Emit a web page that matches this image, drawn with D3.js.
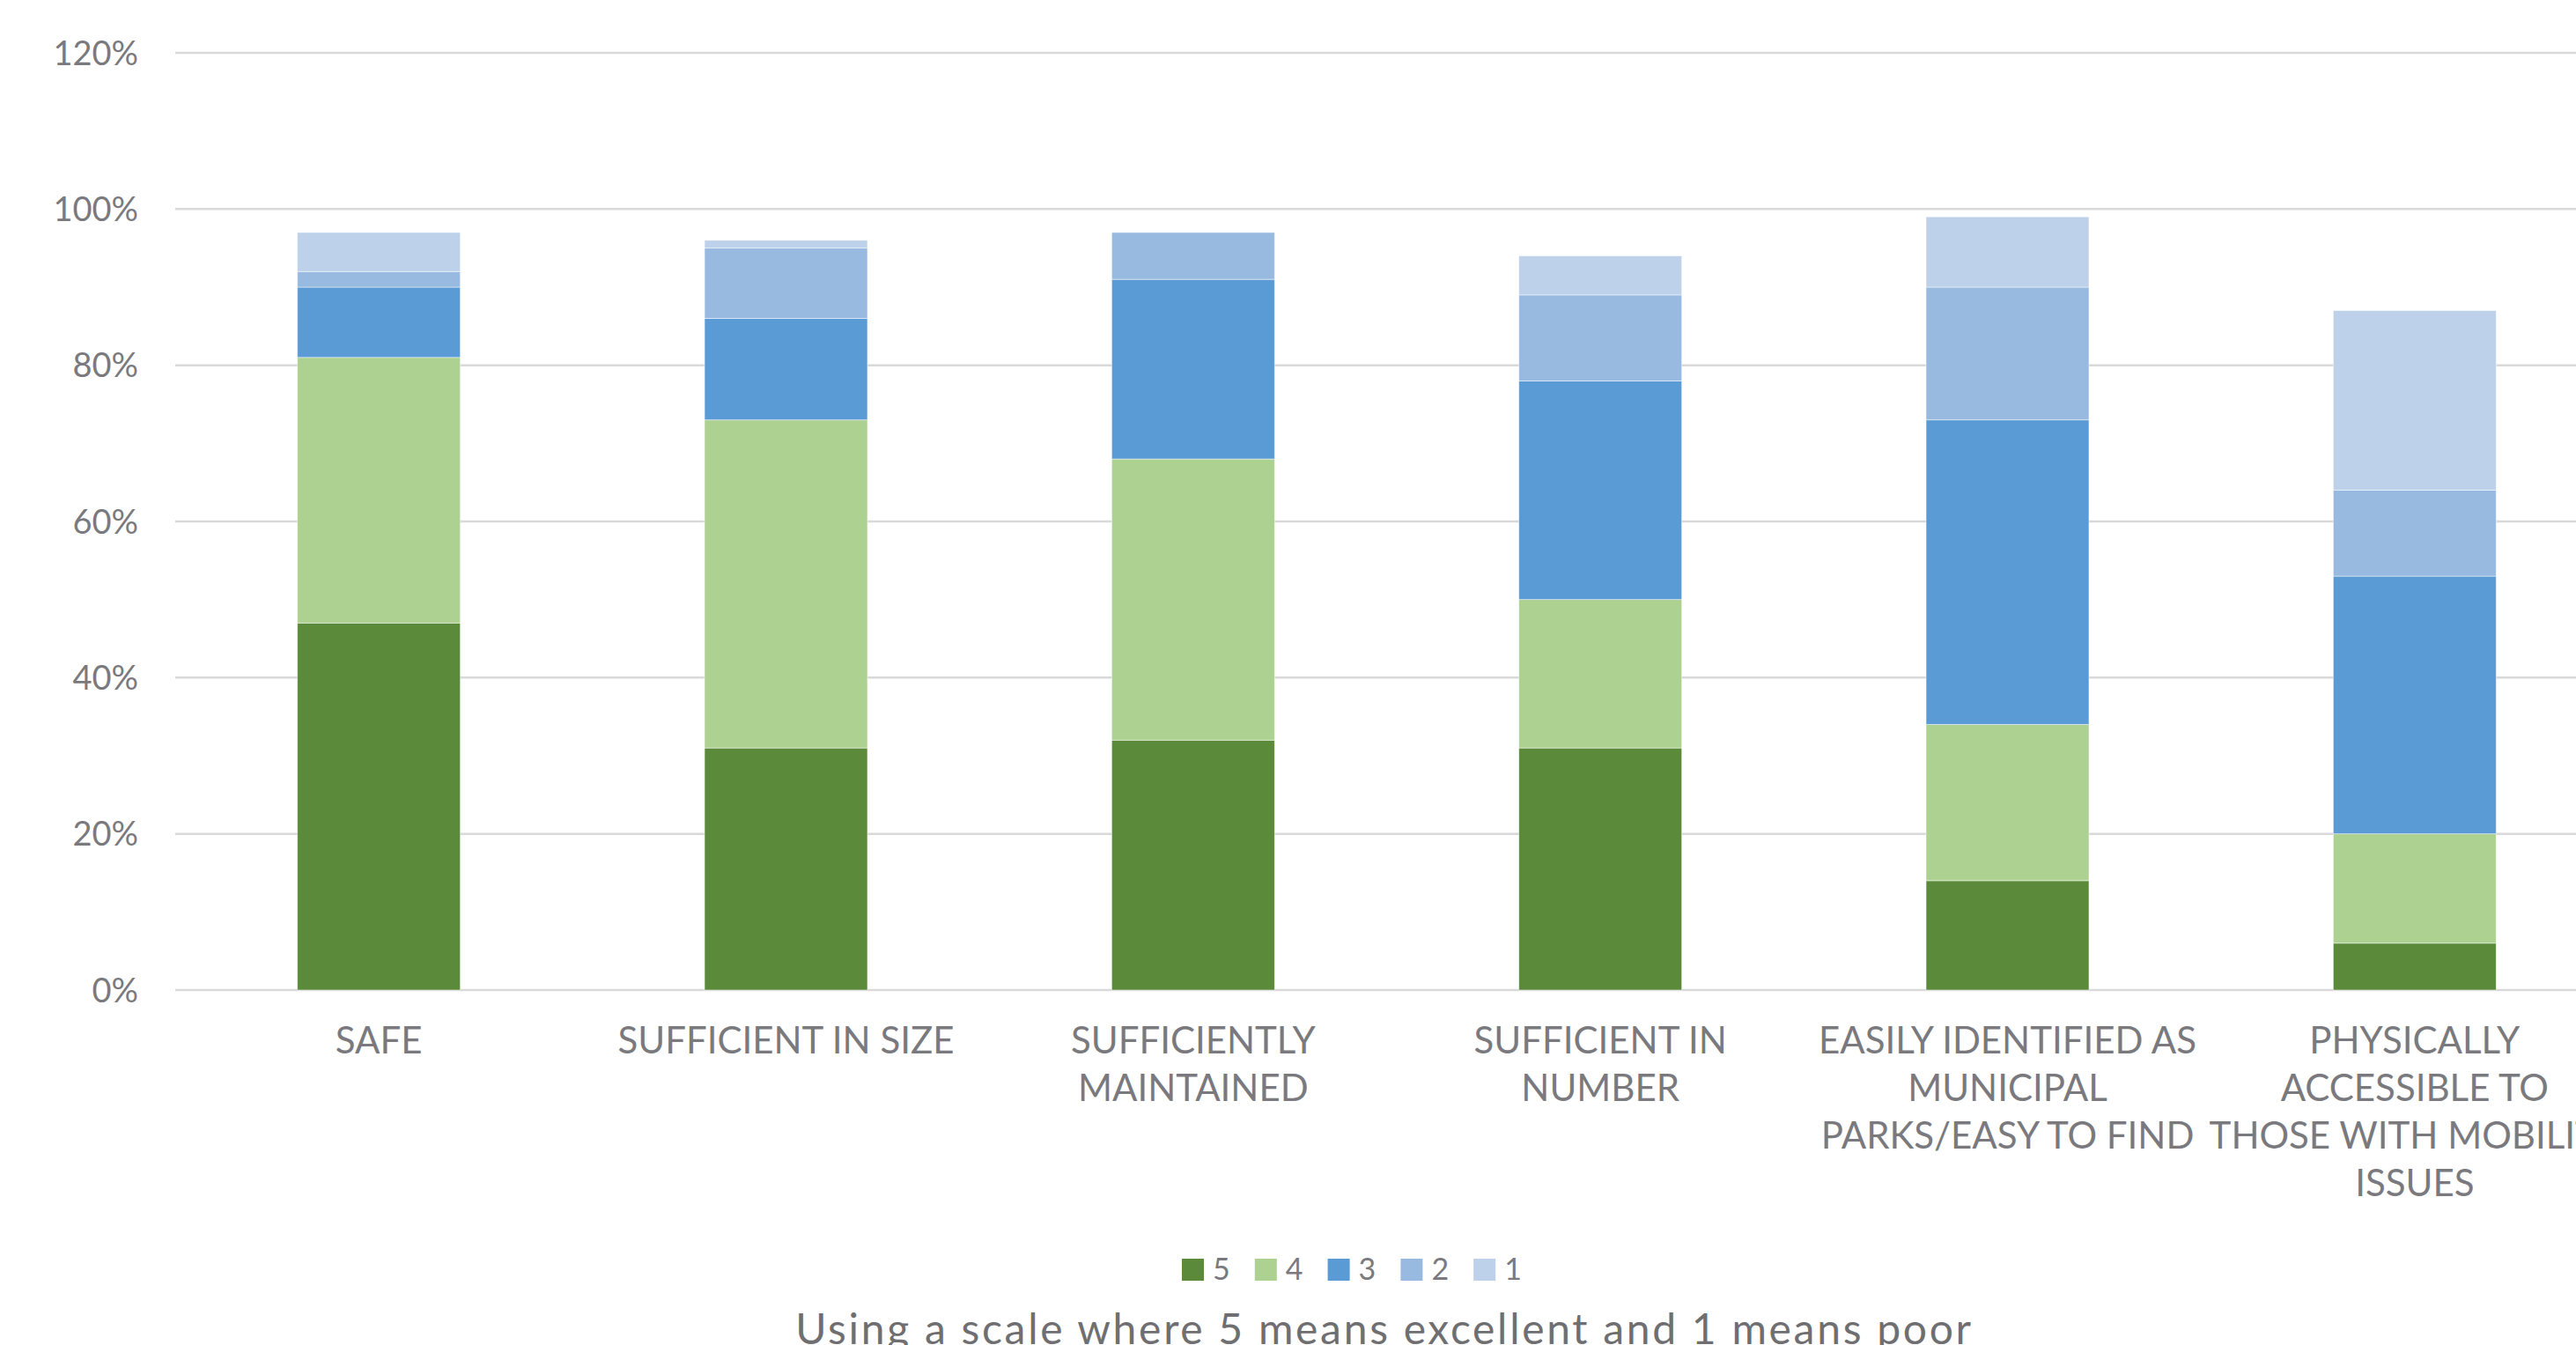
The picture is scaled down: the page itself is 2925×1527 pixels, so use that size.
<!DOCTYPE html>
<html>
<head>
<meta charset="utf-8">
<script src="https://cdn.jsdelivr.net/npm/d3@7"></script>
<style>
  html, body { margin: 0; padding: 0; background: #ffffff; overflow: hidden; }
  svg { display: block; }
</style>
</head>
<body>
<svg id="chart" width="2925" height="1527"></svg>
<script>
// ---- data ----
const categories = [
  "SAFE",
  "SUFFICIENT IN SIZE",
  "SUFFICIENTLY MAINTAINED",
  "SUFFICIENT IN NUMBER",
  "EASILY IDENTIFIED AS MUNICIPAL PARKS/EASY TO FIND",
  "PHYSICALLY ACCESSIBLE TO THOSE WITH MOBILITY ISSUES"
];
const categoryLines = [
  ["SAFE"],
  ["SUFFICIENT IN SIZE"],
  ["SUFFICIENTLY", "MAINTAINED"],
  ["SUFFICIENT IN", "NUMBER"],
  ["EASILY IDENTIFIED AS", "MUNICIPAL", "PARKS/EASY TO FIND"],
  ["PHYSICALLY", "ACCESSIBLE TO", "THOSE WITH MOBILITY", "ISSUES"]
];
const seriesNames = ["5", "4", "3", "2", "1"];
const series5 = [47, 31, 32, 31, 14, 6];
const series4 = [34, 42, 36, 19, 20, 14];
const series3 = [9, 13, 23, 28, 39, 33];
const series2 = [2, 9, 6, 11, 17, 11];
const series1 = [5, 1, 0, 5, 9, 23];
const yTickValues = [0, 20, 40, 60, 80, 100, 120];
const xAxisTitle = "Using a scale where 5 means excellent and 1 means poor";

const seriesColors = ["#5b8a3a", "#acd190", "#5b9bd5", "#98b9e0", "#bdd1ea"];

// ---- build table ----
const allSeries = [series5, series4, series3, series2, series1];
const table = categories.map((c, i) => {
  const row = { category: c };
  seriesNames.forEach((s, k) => { row[s] = allSeries[k][i]; });
  return row;
});

const svg = d3.select("#chart");
const W = 2925, H = 1527;

const x = d3.scaleBand()
  .domain(categories)
  .range([199, 2973])
  .paddingInner(0.6)
  .paddingOuter(0.3);

const y = d3.scaleLinear()
  .domain([0, 120])
  .range([1124, 60]);

const textColor = "#7a7a7e";
const labelFont = "Lato, 'Open Sans', sans-serif";

// gridlines
const grid = svg.append("g");
grid.selectAll("line")
  .data(yTickValues)
  .join("line")
  .attr("x1", 199)
  .attr("x2", W)
  .attr("y1", d => y(d))
  .attr("y2", d => y(d))
  .attr("stroke", "#d9d9d9")
  .attr("stroke-width", 2.5);

// y axis labels via d3 axis
const yAxis = d3.axisLeft(y)
  .tickValues(yTickValues)
  .tickFormat(d => d + "%")
  .tickSize(0)
  .tickPadding(0);
const yg = svg.append("g")
  .attr("transform", "translate(157,0)")
  .call(yAxis);
yg.select(".domain").remove();
yg.selectAll("text")
  .attr("fill", textColor)
  .attr("font-family", labelFont)
  .attr("font-size", 38)
  .attr("dy", "0.35em");

// stacked bars
const stack = d3.stack().keys(seriesNames);
const stacked = stack(table);

const barsG = svg.append("g");
barsG.selectAll("g.layer")
  .data(stacked)
  .join("g")
  .attr("class", "layer")
  .attr("fill", (d, i) => seriesColors[i])
  .selectAll("rect")
  .data(d => d.map(v => Object.assign(v, { cat: v.data.category })))
  .join("rect")
  .attr("x", d => x(d.cat))
  .attr("width", x.bandwidth())
  .attr("y", d => y(d[1]))
  .attr("height", d => Math.max(0, y(d[0]) - y(d[1])))
  .attr("stroke", d => (d[1] - d[0]) > 0 ? "#ffffff" : "none")
  .attr("stroke-width", 0.8)
  .attr("stroke-opacity", 0.6);

// category labels
const xg = svg.append("g");
categories.forEach((c, i) => {
  const cx = x(c) + x.bandwidth() / 2;
  const t = xg.append("text")
    .attr("x", cx)
    .attr("y", 1196)
    .attr("text-anchor", "middle")
    .attr("fill", textColor)
    .attr("font-family", labelFont)
    .attr("font-size", 42);
  categoryLines[i].forEach((line, j) => {
    t.append("tspan")
      .attr("x", cx)
      .attr("dy", j === 0 ? 0 : 54)
      .text(line);
  });
});

// legend
const legend = svg.append("g").attr("transform", "translate(1342,1429)");
const legendStep = 82.8;
seriesNames.forEach((s, i) => {
  const g = legend.append("g").attr("transform", `translate(${i * legendStep},0)`);
  g.append("rect")
    .attr("width", 25)
    .attr("height", 25)
    .attr("fill", seriesColors[i]);
  g.append("text")
    .attr("x", 35)
    .attr("y", 24)
    .attr("fill", textColor)
    .attr("font-family", labelFont)
    .attr("font-size", 34)
    .text(s);
});

// axis title
svg.append("text")
  .attr("x", 1572)
  .attr("y", 1526)
  .attr("text-anchor", "middle")
  .attr("fill", "#6f6f72")
  .attr("font-family", labelFont)
  .attr("font-size", 48)
  .attr("letter-spacing", 2.7)
  .text(xAxisTitle);
</script>
</body>
</html>
